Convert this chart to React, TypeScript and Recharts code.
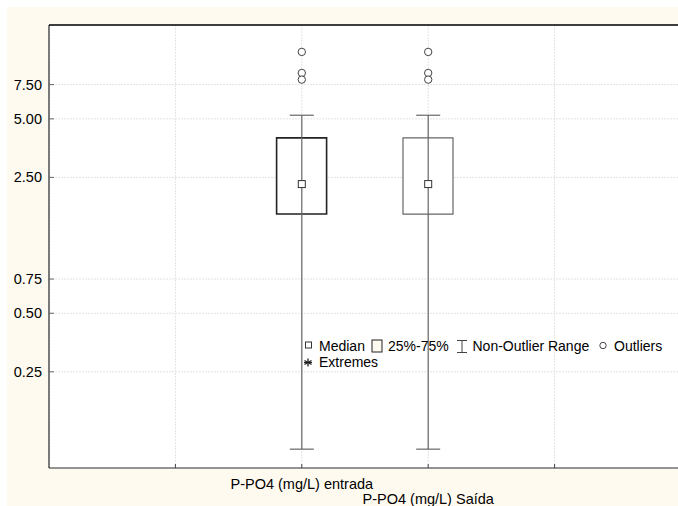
import React from "react";
import {
  ComposedChart,
  CartesianGrid,
  XAxis,
  YAxis,
  Bar,
  Cell,
  Scatter,
  ErrorBar,
  Legend,
  ReferenceLine,
} from "recharts";

// values (log scale)
const categories = ["P-PO4 (mg/L) entrada", "P-PO4 (mg/L) Saída"];
const medians = [2.31, 2.31];
const q1 = [1.62, 1.62];
const q3 = [3.99, 3.99];
const whiskerLow = [0.1, 0.1];
const whiskerHigh = [5.22, 5.22];
const outliers = [
  [11.05, 8.61, 7.96],
  [11.05, 8.61, 7.96],
];
const xTicks = [1, 2, 3, 4];
const yTicks = [0.25, 0.5, 0.75, 2.5, 5, 7.5];
const yDomain = [0.08, 15.2];
const legendLabels = ["Median", "25%-75%", "Non-Outlier Range", "Outliers", "Extremes"];

const rows = categories.map((name, i) => ({
  x: i + 2,
  name,
  box: [q1[i], q3[i]],
  med: medians[i],
  err: [medians[i] - whiskerLow[i], whiskerHigh[i] - medians[i]],
}));

const outlierRows = outliers.flatMap((vals, i) =>
  vals.map((v) => ({ x: i + 2, y: v }))
);

const FONT = "'Liberation Sans', Arial, sans-serif";
const CREAM = "#fffaf0";
const boxStrokes = ["#222", "#666"];

const YTick = (props: any) => {
  const { x, y, payload } = props;
  return (
    <g>
      <text x={x} y={y} dy={5} textAnchor="end" fontSize={14.5} fontFamily={FONT} fill="#000">
        {Number(payload.value).toFixed(2)}
      </text>
      <line x1={x + 7} x2={x + 12} y1={y} y2={y} stroke="#666" />
    </g>
  );
};

const XTick = (props: any) => {
  const { x, y, payload } = props;
  const idx = payload.value - 2;
  const label = categories[idx];
  return (
    <g>
      <line x1={x} x2={x} y1={y - 4} y2={y} stroke="#444" />
      {label && (
        <text
          x={x}
          y={y + (idx === 0 ? 21 : 36)}
          textAnchor="middle"
          fontSize={14.5}
          fontFamily={FONT}
          fill="#000"
        >
          {label}
        </text>
      )}
    </g>
  );
};

const MedianShape = (props: any) => {
  const { cx, cy } = props;
  return <rect x={cx - 3.5} y={cy - 3.5} width={7} height={7} fill="#fff" stroke="#333" />;
};

const OutlierShape = (props: any) => {
  const { cx, cy } = props;
  return <circle cx={cx} cy={cy} r={3.7} fill="#fff" stroke="#444" />;
};

const LegendBox = () => {
  const t = { fontSize: 14, fontFamily: FONT, fill: "#000" };
  return (
    <svg width={380} height={36} style={{ display: "block" }}>
      <rect x={2.5} y={5} width={6} height={6} fill="#fff" stroke="#333" />
      <text x={16} y={14} {...t}>{legendLabels[0]}</text>
      <rect x={69} y={3} width={10} height={12} fill={CREAM} stroke="#222" />
      <text x={85} y={14} {...t}>{legendLabels[1]}</text>
      <g stroke="#444">
        <line x1={154} x2={164} y1={3.5} y2={3.5} />
        <line x1={154} x2={164} y1={15.5} y2={15.5} />
        <line x1={159} x2={159} y1={3.5} y2={15.5} />
      </g>
      <text x={169.5} y={14} {...t}>{legendLabels[2]}</text>
      <circle cx={300} cy={8.5} r={3.2} fill="#fff" stroke="#444" />
      <text x={311} y={14} {...t}>{legendLabels[3]}</text>
      <g stroke="#222" strokeWidth={1.3}>
        <line x1={5} x2={5} y1={21.5} y2={29.5} />
        <line x1={1.5} x2={8.5} y1={23.5} y2={27.5} />
        <line x1={1.5} x2={8.5} y1={27.5} y2={23.5} />
        <line x1={1} x2={9} y1={25.5} y2={25.5} />
      </g>
      <text x={16} y={29.5} {...t}>{legendLabels[4]}</text>
    </svg>
  );
};

export default function App() {
  return (
    <div
      style={{
        position: "fixed",
        left: 7,
        top: 7,
        width: 671,
        height: 499,
        overflow: "hidden",
        background: CREAM,
      }}
    >
      <ComposedChart
        width={690}
        height={499}
        data={rows}
        margin={{ top: 18, right: 16, left: 0, bottom: 0 }}
      >
        <CartesianGrid stroke="#e3e3e3" strokeDasharray="2 1" fill="#fff" fillOpacity={1} />
        <XAxis
          dataKey="x"
          type="number"
          domain={[0, 5]}
          ticks={xTicks}
          interval={0}
          allowDataOverflow
          height={38}
          axisLine={{ stroke: "#333" }}
          tickLine={false}
          tickSize={0}
          tickMargin={0}
          tick={<XTick />}
        />
        <YAxis
          type="number"
          scale="log"
          domain={yDomain}
          ticks={yTicks}
          interval={0}
          allowDataOverflow
          width={42}
          axisLine={{ stroke: "#000" }}
          tickLine={false}
          tickSize={0}
          tickMargin={7}
          tick={<YTick />}
        />
        {/* plot frame top edge */}
        <ReferenceLine y={yDomain[1]} stroke="#000" strokeWidth={1.5} ifOverflow="visible" />
        <Scatter data={rows} dataKey="med" shape={() => <g />} isAnimationActive={false}>
          <ErrorBar
            dataKey="err"
            direction="y"
            width={12}
            stroke="#666"
            strokeWidth={1.2}
            isAnimationActive={false}
          />
        </Scatter>
        <Bar dataKey="box" barSize={50} fill="#fff" isAnimationActive={false}>
          {rows.map((r, i) => (
            <Cell key={r.name} fill="#fff" stroke={boxStrokes[i]} strokeWidth={i === 0 ? 1.6 : 1.2} />
          ))}
        </Bar>
        <Scatter data={rows} dataKey="med" shape={MedianShape} isAnimationActive={false} />
        <Scatter data={outlierRows} dataKey="y" shape={OutlierShape} isAnimationActive={false} />
        <Legend
          verticalAlign="middle"
          align="center"
          layout="horizontal"
          wrapperStyle={{ left: 296, top: 330, width: 380, height: 36 }}
          content={() => <LegendBox />}
        />
      </ComposedChart>
    </div>
  );
}
